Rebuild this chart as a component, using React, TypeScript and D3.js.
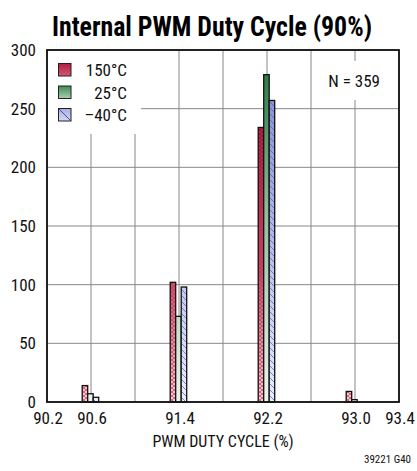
import React from "react";
import * as d3 from "d3";

const bins = [90.6, 91.4, 92.2, 93.0];
const series150 = [14, 102, 234, 9];
const series25 = [7, 73, 279, 2];
const seriesM40 = [4, 98, 257, 0];
const seriesNames = ["150°C", "25°C", "–40°C"];
const gridX = [90.2, 90.6, 91.0, 91.4, 91.8, 92.2, 92.6, 93.0, 93.4];
const xTickLabels = ["90.2", "90.6", "91.4", "92.2", "93.0", "93.4"];
const yTicks = [0, 50, 100, 150, 200, 250, 300];

const FONT = "'Liberation Sans Narrow', 'Roboto Condensed', 'Arial Narrow', 'Liberation Sans', sans-serif";

export default function App() {
  const W = 417, H = 471;
  const x = d3.scaleLinear().domain([90.2, 93.4]).range([47, 399]);
  const y = d3.scaleLinear().domain([0, 300]).range([402, 50]);
  const barW = 0.05;
  const offset = -0.08;
  const series = [series150, series25, seriesM40];
  const fills = ["url(#gRed)", "url(#gGreen)", "url(#gBlue)"];
  const pats = ["url(#pRed)", null, "url(#pBlue)"];
  const legFills = ["url(#lRed)", "url(#lGreen)", "url(#lBlue)"];

  return (
    <svg width={W} height={H} style={{ position: "absolute", left: 0, top: 0, background: "#fff" }} fontFamily={FONT}>
      <defs>
        <linearGradient id="gRed" gradientUnits="userSpaceOnUse" x1="0" y1="110" x2="0" y2="402">
          <stop offset="0" stopColor="#950a32" />
          <stop offset="0.55" stopColor="#c84565" />
          <stop offset="1" stopColor="#f4ccd5" />
        </linearGradient>
        <linearGradient id="gGreen" gradientUnits="userSpaceOnUse" x1="0" y1="70" x2="0" y2="402">
          <stop offset="0" stopColor="#2c7a45" />
          <stop offset="0.45" stopColor="#93c0a0" />
          <stop offset="1" stopColor="#eef5ef" />
        </linearGradient>
        <linearGradient id="gBlue" gradientUnits="userSpaceOnUse" x1="0" y1="95" x2="0" y2="402">
          <stop offset="0" stopColor="#8a92d2" />
          <stop offset="0.5" stopColor="#b8bde6" />
          <stop offset="1" stopColor="#eceefa" />
        </linearGradient>
        <linearGradient id="lRed" x1="0" y1="0" x2="0" y2="1">
          <stop offset="0" stopColor="#a8163f" />
          <stop offset="1" stopColor="#d86a82" />
        </linearGradient>
        <linearGradient id="lGreen" x1="0" y1="0" x2="0" y2="1">
          <stop offset="0" stopColor="#3f8a55" />
          <stop offset="1" stopColor="#a8d0b0" />
        </linearGradient>
        <linearGradient id="lBlue" x1="0" y1="0" x2="0" y2="1">
          <stop offset="0" stopColor="#aab0e0" />
          <stop offset="1" stopColor="#d4d7f2" />
        </linearGradient>
        <pattern id="pRed" patternUnits="userSpaceOnUse" width="4" height="4">
          <path d="M0,0L4,4M4,0L0,4" stroke="#c8304f" strokeWidth="0.8" opacity="0.8" />
        </pattern>
        <pattern id="pBlue" patternUnits="userSpaceOnUse" width="6" height="6">
          <path d="M0,0L6,6M-3,3L0,6M3,-3L6,0" stroke="#4a5cc4" strokeWidth="0.8" opacity="0.9" />
        </pattern>
      </defs>

      {/* title */}
      <text x={212} y={36} textAnchor="middle" fontSize={27} fontWeight="bold" fill="#000"
        textLength={320} lengthAdjust="spacingAndGlyphs">Internal PWM Duty Cycle (90%)</text>

      {/* grid */}
      {gridX.map((v) => (
        <line key={"gx" + v} x1={x(v)} x2={x(v)} y1={y(300)} y2={y(0)} stroke="#888" strokeWidth={1} />
      ))}
      {yTicks.map((v) => (
        <line key={"gy" + v} x1={x(90.2)} x2={x(93.4)} y1={y(v)} y2={y(v)} stroke="#888" strokeWidth={1} />
      ))}

      {/* legend / N boxes cover grid */}
      <rect x={48} y={51} width={93} height={83} fill="#fff" />
      <rect x={313} y={61} width={85} height={39} fill="#fff" />

      {/* bars */}
      {series.map((s, si) =>
        s.map((v, bi) => {
          if (v <= 0) return null;
          const x0 = x(bins[bi] + offset + si * barW);
          const x1 = x(bins[bi] + offset + (si + 1) * barW);
          const yt = y(v);
          const h = y(0) - yt;
          return (
            <g key={si + "-" + bi}>
              <rect x={x0} y={yt} width={x1 - x0} height={h} fill={fills[si]} />
              {pats[si] && <rect x={x0} y={yt} width={x1 - x0} height={h} fill={pats[si] as string} />}
              <rect x={x0} y={yt} width={x1 - x0} height={h} fill="none" stroke="#111" strokeWidth={1.3} />
            </g>
          );
        })
      )}

      {/* frame */}
      <rect x={x(90.2)} y={y(300)} width={x(93.4) - x(90.2)} height={y(0) - y(300)} fill="none" stroke="#111" strokeWidth={1.8} />

      {/* legend */}
      {seriesNames.map((n, i) => {
        const cy = 70 + i * 22.5;
        return (
          <g key={n}>
            <rect x={58.5} y={cy - 6.5} width={12.5} height={12.5} fill={legFills[i]} />
            {i === 0 && <rect x={58.5} y={cy - 6.5} width={12.5} height={12.5} fill="url(#pRed)" />}
            {i === 2 && <line x1={58.5} y1={cy - 6.5} x2={71} y2={cy + 6} stroke="#3a4cb8" strokeWidth={1} />}
            <rect x={58.5} y={cy - 6.5} width={12.5} height={12.5} fill="none" stroke="#222" strokeWidth={1} />
            <text x={127} y={cy + 6} textAnchor="end" fontSize={17} fill="#111">{n}</text>
          </g>
        );
      })}

      <text x={380} y={87} textAnchor="end" fontSize={17} fill="#111">N = 359</text>

      {/* y ticks */}
      {yTicks.map((v) => (
        <text key={"yt" + v} x={36} y={y(v) + 6} textAnchor="end" fontSize={17} fill="#111">{v}</text>
      ))}
      {/* x ticks */}
      {xTickLabels.map((t) => (
        <text key={"xt" + t} x={x(+t) + 1} y={424} textAnchor="middle" fontSize={17} fill="#111">{t}</text>
      ))}
      <text x={223} y={447} textAnchor="middle" fontSize={16} fill="#111">PWM DUTY CYCLE (%)</text>
      <text x={411} y={463} textAnchor="end" fontSize={11} fill="#111">39221 G40</text>
    </svg>
  );
}
